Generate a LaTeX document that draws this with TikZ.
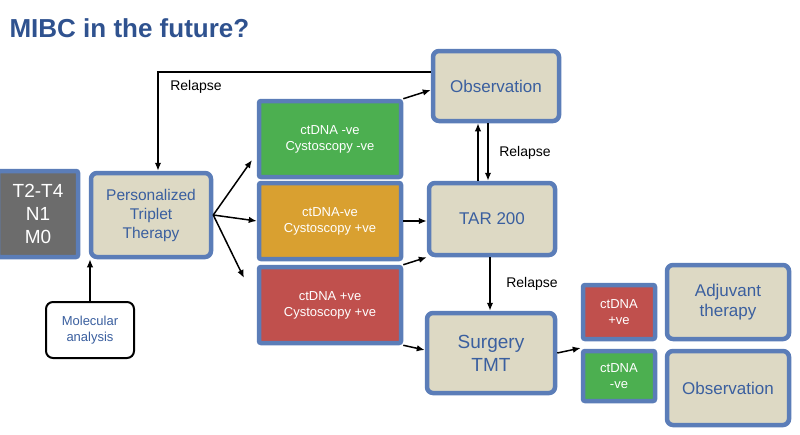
\documentclass[tikz,border=0pt]{standalone}
\usepackage{fontspec}
\setmainfont{Liberation Sans}
\usetikzlibrary{arrows.meta}
\definecolor{bord}{HTML}{5B7DB8}
\definecolor{beige}{HTML}{DDD9C4}
\definecolor{txtb}{HTML}{3A5F9F}
\definecolor{titleb}{HTML}{2F528F}
\definecolor{gr}{HTML}{4CAF50}
\definecolor{og}{HTML}{D9A030}
\definecolor{rd}{HTML}{C0504D}
\begin{document}
\begin{tikzpicture}[x=1pt,y=-1pt,
 big/.style={draw=bord,line width=4.5pt,rounded corners=6pt,fill=beige,text=txtb,align=center,font=\fontsize{17}{20}\selectfont,inner sep=0},
 col/.style={draw=bord,line width=4.5pt,rounded corners=2pt,text=white,align=center,font=\fontsize{13}{16}\selectfont,inner sep=0},
 arr/.style={-{Latex[length=8pt,width=6.5pt]},line width=1.5pt},
 lab/.style={font=\fontsize{14}{16}\selectfont}]
\useasboundingbox (0,0) rectangle (800,434);
\node[anchor=west,text=titleb,font=\fontsize{26}{29}\selectfont\bfseries] (title) at (6,28) {MIBC in the future?};
\node[col,fill=gray!85!black,minimum width=80pt,minimum height=86pt,font=\fontsize{19}{23}\selectfont] (t) at (38,214) {T2-T4\\N1\\M0};
\node[big,minimum width=120pt,minimum height=84pt,font=\fontsize{15.5}{19}\selectfont] (p) at (151,215) {Personalized\\Triplet\\Therapy};
\node[draw,line width=2pt,rounded corners=7pt,fill=white,text=txtb,align=center,minimum width=88pt,minimum height=56pt,font=\fontsize{13}{16}\selectfont] (m) at (90,330) {Molecular\\analysis};
\node[col,fill=gr,minimum width=142pt,minimum height=76pt] (g) at (330,139) {ctDNA -ve\\Cystoscopy -ve};
\node[col,fill=og,minimum width=142pt,minimum height=76pt] (o) at (330,221) {ctDNA-ve\\Cystoscopy +ve};
\node[col,fill=rd,minimum width=142pt,minimum height=76pt] (r) at (330,305) {ctDNA +ve\\Cystoscopy +ve};
\node[big,minimum width=126pt,minimum height=70pt] (ob) at (496,86) {Observation};
\node[big,minimum width=126pt,minimum height=72pt] (tar) at (492,219) {TAR 200};
\node[big,minimum width=128pt,minimum height=80pt,font=\fontsize{19}{23}\selectfont] (s) at (491,353) {Surgery\\TMT};
\node[col,fill=rd,minimum width=72pt,minimum height=54pt] (sr) at (619,312) {ctDNA\\+ve};
\node[col,fill=gr,minimum width=72pt,minimum height=50pt] (sg) at (619,376) {ctDNA\\-ve};
\node[big,minimum width=122pt,minimum height=74pt] (adj) at (728,302) {Adjuvant\\therapy};
\node[big,minimum width=122pt,minimum height=74pt] (ob2) at (728,388) {Observation};
\draw[arr] (ob.west|-0,72) -- (158,72) -- (p.north-|158,0);
\node[lab] (rl1) at (196,87) {Relapse};
\draw[arr] (p.east) -- (252,160);
\draw[arr] (p.east) -- (o.west);
\draw[arr] (p.east) -- (244,278);
\draw[arr] (g.north east) -- (ob.west|-0,90);
\draw[arr] (o.east) -- (tar.west|-o.east);
\draw[arr] (r.north east) -- (tar.south west);
\draw[arr] (r.south east) -- (s.west|-0,350);
\draw[arr] (tar.north-|478,0) -- (ob.south-|478,0);
\draw[arr] (ob.south-|488,0) -- (tar.north-|488,0);
\node[lab] (rl2) at (525,153) {Relapse};
\draw[arr] (tar.south-|490,0) -- (s.north-|490,0);
\node[lab] (rl3) at (532,284) {Relapse};
\draw[arr] (s.east) -- (sr.south west|-0,348);
\draw[arr] (m.north) -- (t.south-|m.north);
\end{tikzpicture}
\end{document}
